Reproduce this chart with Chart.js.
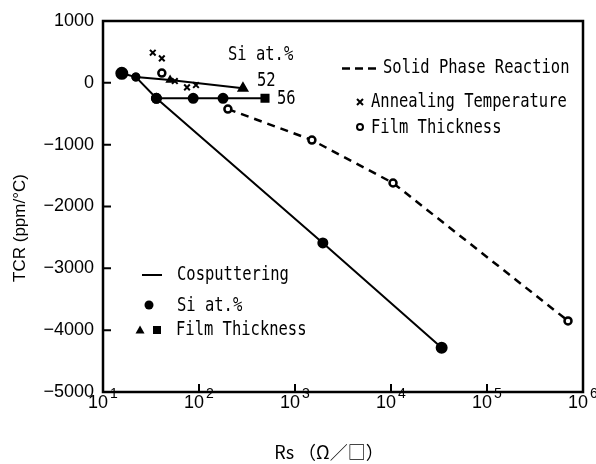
<!DOCTYPE html>
<html>
<head>
<meta charset="utf-8">
<script src="https://cdn.jsdelivr.net/npm/chart.js@4.4.0/dist/chart.umd.min.js"></script>
<style>
  html, body { margin: 0; padding: 0; background: #fff; }
  #wrap { width: 596px; height: 464px; }
</style>
</head>
<body>
<div id="wrap"><canvas id="tcrChart" width="596" height="464"></canvas></div>
<script>
// values (Rs in ohm/sq, TCR in ppm/°C)
const cospRs = [15.7, 22, 36, 1950, 33700];
const cospTcr = [154, 94, -250, -2590, -4285];
const si52Rs = [22, 50, 287];
const si52Tcr = [94, 45, -89];
const si56Rs = [36, 87, 178, 487];
const si56Tcr = [-250, -250, -250, -250];
const solidRs = [200, 1500, 10500, 698000];
const solidTcr = [-424, -925, -1620, -3850];
const annealRs = [33, 41, 56, 75, 93];
const annealTcr = [487, 396, 29, -73, -36];
const thickRs = [41];
const thickTcr = [158];
const yTicks = [1000, 0, -1000, -2000, -3000, -4000, -5000];
const xDecades = [1, 2, 3, 4, 5, 6];

function pts(xs, ys) {
    return xs.map((x, i) => ({ x: x, y: ys[i] }));
}

// narrow monospaced text like the typewriter labels on the original
function monoText(ctx, text, x, y) {
    ctx.save();
    ctx.translate(x, y);
    ctx.scale(0.815, 1);
    ctx.font = '19px "DejaVu Sans Mono"';
    ctx.textAlign = 'left';
    ctx.textBaseline = 'middle';
    ctx.fillStyle = '#000';
    ctx.fillText(text, 0, 0);
    ctx.restore();
}

const decorPlugin = {
    id: 'decor',
    afterDraw(chart) {
        const ctx = chart.ctx;
        const area = chart.chartArea;
        const xs = chart.scales.x;
        const ys = chart.scales.y;
        ctx.save();
        ctx.strokeStyle = '#000';
        ctx.fillStyle = '#000';

        // frame
        ctx.lineWidth = 2.5;
        ctx.strokeRect(area.left, area.top, area.right - area.left, area.bottom - area.top);

        // inward tick marks
        ctx.lineWidth = 2;
        ctx.beginPath();
        yTicks.forEach(v => {
            const py = ys.getPixelForValue(v);
            ctx.moveTo(area.left, py);
            ctx.lineTo(area.left + 8, py);
        });
        xDecades.forEach(d => {
            const px = xs.getPixelForValue(Math.pow(10, d));
            ctx.moveTo(px, area.bottom);
            ctx.lineTo(px, area.bottom - 8);
        });
        ctx.stroke();

        // x tick labels 10^n
        xDecades.forEach(d => {
            const px = xs.getPixelForValue(Math.pow(10, d));
            ctx.font = '18px "Liberation Sans"';
            const w1 = ctx.measureText('10').width;
            ctx.font = '14px "Liberation Sans"';
            const w2 = ctx.measureText(String(d)).width;
            const left = px - (w1 + 2 + w2) / 2;
            ctx.textAlign = 'left';
            ctx.textBaseline = 'alphabetic';
            ctx.font = '18px "Liberation Sans"';
            ctx.fillText('10', left, 408);
            ctx.font = '14px "Liberation Sans"';
            ctx.fillText(String(d), left + w1 + 2, 398);
        });

        // axis titles
        ctx.font = '18px "Noto Sans CJK JP"';
        ctx.textAlign = 'center';
        ctx.textBaseline = 'middle';
        ctx.fillText('Rs （Ω／□）', 329, 452);

        ctx.save();
        ctx.translate(20, 228);
        ctx.rotate(-Math.PI / 2);
        ctx.font = '17px "Liberation Sans"';
        ctx.fillText('TCR (ppm/°C)', 0, 0);
        ctx.restore();

        // labels next to the lines
        monoText(ctx, 'Si at.%', 228, 55);
        monoText(ctx, '52', 257, 81);
        monoText(ctx, '56', 277, 99.5);

        // legend, upper right
        ctx.lineWidth = 2.5;
        ctx.setLineDash([8, 5]);
        ctx.beginPath();
        ctx.moveTo(342, 68.5);
        ctx.lineTo(376, 68.5);
        ctx.stroke();
        ctx.setLineDash([]);
        monoText(ctx, 'Solid Phase Reaction', 383, 68.5);

        ctx.lineWidth = 2;
        ctx.beginPath();
        ctx.moveTo(357, 99); ctx.lineTo(363, 105);
        ctx.moveTo(363, 99); ctx.lineTo(357, 105);
        ctx.stroke();
        monoText(ctx, 'Annealing Temperature', 371, 102);

        ctx.beginPath();
        ctx.arc(360, 127, 3, 0, Math.PI * 2);
        ctx.stroke();
        monoText(ctx, 'Film Thickness', 371, 128);

        // legend, lower left
        ctx.lineWidth = 2;
        ctx.beginPath();
        ctx.moveTo(142, 275);
        ctx.lineTo(162, 275);
        ctx.stroke();
        monoText(ctx, 'Cosputtering', 177, 275);

        ctx.beginPath();
        ctx.arc(149, 305, 4.5, 0, Math.PI * 2);
        ctx.fill();
        monoText(ctx, 'Si at.%', 177, 306);

        ctx.beginPath();
        ctx.moveTo(140, 325.5); ctx.lineTo(144.5, 333.5); ctx.lineTo(135.5, 333.5);
        ctx.closePath();
        ctx.fill();
        ctx.fillRect(153, 326, 8, 8);
        monoText(ctx, 'Film Thickness', 176, 330);

        ctx.restore();
    }
};

const ctx = document.getElementById('tcrChart').getContext('2d');
new Chart(ctx, {
    type: 'scatter',
    data: {
        datasets: [
            {
                label: 'Solid Phase Reaction',
                data: pts(solidRs, solidTcr),
                showLine: true,
                borderColor: '#000',
                borderWidth: 2.5,
                borderDash: [8, 6],
                pointStyle: 'circle',
                pointRadius: 3.5,
                pointBorderWidth: 2.5,
                pointBackgroundColor: '#fff',
                pointBorderColor: '#000'
            },
            {
                label: 'Cosputtering',
                data: pts(cospRs, cospTcr),
                showLine: true,
                borderColor: '#000',
                borderWidth: 2,
                pointStyle: 'circle',
                pointRadius: [5.5, 3.5, 4.5, 4.5, 5],
                pointBackgroundColor: '#000',
                pointBorderColor: '#000'
            },
            {
                label: '52',
                data: pts(si52Rs, si52Tcr),
                showLine: true,
                borderColor: '#000',
                borderWidth: 2,
                pointStyle: ['circle', 'triangle', 'triangle'],
                pointRadius: [3.5, 3.5, 5],
                pointBackgroundColor: '#000',
                pointBorderColor: '#000'
            },
            {
                label: '56',
                data: pts(si56Rs, si56Tcr),
                showLine: true,
                borderColor: '#000',
                borderWidth: 2,
                pointStyle: ['circle', 'circle', 'circle', 'rect'],
                pointRadius: [4.5, 4.5, 4.5, 5],
                pointBackgroundColor: '#000',
                pointBorderColor: '#000'
            },
            {
                label: 'Annealing Temperature',
                data: pts(annealRs, annealTcr),
                showLine: false,
                pointStyle: 'crossRot',
                pointRadius: 4,
                pointBorderWidth: 2,
                pointBorderColor: '#000'
            },
            {
                label: 'Film Thickness',
                data: pts(thickRs, thickTcr),
                showLine: false,
                pointStyle: 'circle',
                pointRadius: 3.5,
                pointBorderWidth: 2.5,
                pointBackgroundColor: '#fff',
                pointBorderColor: '#000'
            }
        ]
    },
    options: {
        responsive: false,
        animation: false,
        layout: {
            padding: { left: 0, right: 13, top: 21, bottom: 0 }
        },
        plugins: {
            legend: { display: false },
            tooltip: { enabled: false }
        },
        scales: {
            x: {
                type: 'logarithmic',
                min: 10,
                max: 1000000,
                grid: { display: false, drawTicks: false },
                border: { display: false },
                ticks: { display: false },
                afterFit(scale) { scale.height = 72; }
            },
            y: {
                min: -5000,
                max: 1000,
                grid: { display: false, drawTicks: false },
                border: { display: false },
                ticks: {
                    stepSize: 1000,
                    padding: 9,
                    color: '#000',
                    font: { family: 'Liberation Sans', size: 18 },
                    callback: v => String(v).replace('-', '\u2212')
                },
                afterFit(scale) { scale.width = 103; }
            }
        }
    },
    plugins: [decorPlugin]
});
</script>
</body>
</html>
